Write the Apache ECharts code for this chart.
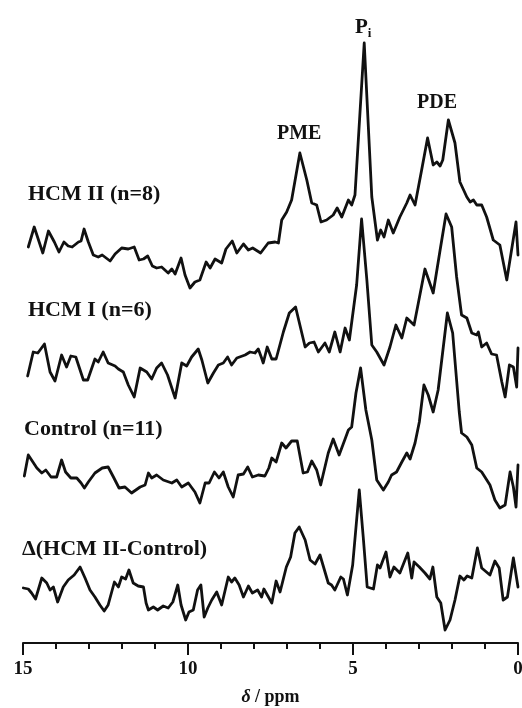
<!DOCTYPE html>
<html>
<head>
<meta charset="utf-8">
<script src="https://cdn.jsdelivr.net/npm/echarts@6/dist/echarts.min.js"></script>
<style>html,body{margin:0;padding:0;background:#fff}#c{width:522px;height:708px}</style>
</head>
<body>
<div id="c"></div>
<script>
// chemical shift (ppm), stacked intensity (arbitrary units)
const hcm2 = [[14.84,396],[14.66,416],[14.40,390],[14.23,412],[14.05,401],[13.91,391],[13.76,401],[13.63,397],[13.51,396],[13.32,401],[13.24,402],[13.15,414],[13.02,401],[12.87,388],[12.72,386],[12.60,388],[12.36,382],[12.21,389],[12.01,395],[11.81,394],[11.63,396],[11.48,383],[11.35,384],[11.22,387],[11.08,377],[10.95,375],[10.80,376],[10.60,370],[10.49,374],[10.39,369],[10.21,385],[10.09,368],[9.94,355],[9.79,361],[9.64,363],[9.45,381],[9.33,375],[9.18,384],[8.98,380],[8.85,394],[8.66,402],[8.52,390],[8.32,399],[8.17,393],[8.04,395],[7.80,390],[7.57,400],[7.36,401],[7.26,400],[7.16,423],[7.01,431],[6.86,443],[6.61,490],[6.40,463],[6.25,440],[6.10,438],[5.97,421],[5.80,423],[5.60,428],[5.48,435],[5.34,426],[5.14,443],[5.04,438],[4.94,448],[4.66,600],[4.43,446],[4.26,403],[4.16,413],[4.06,406],[3.93,423],[3.78,410],[3.58,426],[3.37,440],[3.27,448],[3.12,438],[2.92,473],[2.74,505],[2.57,478],[2.46,481],[2.36,477],[2.28,483],[2.11,523],[1.91,500],[1.76,461],[1.55,446],[1.45,441],[1.35,443],[1.25,438],[1.10,438],[0.95,426],[0.75,403],[0.55,398],[0.34,363],[0.06,421],[0.0,388]];
const hcm1 = [[14.86,267],[14.69,291],[14.55,290],[14.35,299],[14.18,271],[14.03,262],[13.83,288],[13.68,276],[13.55,287],[13.40,286],[13.17,263],[13.04,263],[12.82,284],[12.72,281],[12.57,291],[12.42,280],[12.21,277],[12.11,274],[11.96,271],[11.81,258],[11.63,246],[11.45,275],[11.25,271],[11.10,264],[10.95,275],[10.80,280],[10.62,268],[10.39,245],[10.19,280],[10.04,277],[9.89,286],[9.69,294],[9.58,283],[9.40,260],[9.23,270],[9.08,278],[8.93,280],[8.80,286],[8.68,278],[8.52,285],[8.27,288],[8.12,291],[7.97,290],[7.87,294],[7.77,285],[7.72,280],[7.60,296],[7.46,284],[7.33,284],[7.11,311],[6.93,330],[6.74,336],[6.45,296],[6.32,300],[6.18,301],[6.05,291],[5.85,300],[5.72,291],[5.55,311],[5.39,291],[5.24,315],[5.11,303],[4.89,358],[4.74,424],[4.58,363],[4.43,298],[4.28,291],[4.06,278],[3.88,296],[3.70,318],[3.52,305],[3.37,325],[3.15,318],[3.02,340],[2.82,374],[2.57,350],[2.36,393],[2.18,429],[2.01,416],[1.86,366],[1.71,328],[1.55,325],[1.40,310],[1.25,308],[1.20,311],[1.10,296],[0.95,300],[0.80,289],[0.65,288],[0.49,261],[0.39,246],[0.26,278],[0.14,276],[0.04,256],[0.0,295]];
const control = [[14.96,167],[14.84,188],[14.58,175],[14.43,170],[14.31,173],[14.15,166],[13.98,166],[13.83,183],[13.71,171],[13.55,165],[13.37,165],[13.24,160],[13.14,155],[13.02,161],[12.82,170],[12.60,175],[12.42,176],[12.26,166],[12.09,155],[11.91,156],[11.71,150],[11.45,156],[11.30,158],[11.20,170],[11.10,165],[10.95,168],[10.75,163],[10.49,160],[10.34,163],[10.19,156],[9.99,160],[9.79,151],[9.64,140],[9.48,160],[9.36,160],[9.20,171],[9.06,165],[8.93,171],[8.78,156],[8.63,146],[8.48,168],[8.32,169],[8.19,176],[8.05,166],[7.87,168],[7.67,167],[7.55,175],[7.46,185],[7.33,181],[7.16,200],[7.03,195],[6.86,202],[6.69,202],[6.51,170],[6.38,171],[6.25,182],[6.10,173],[5.98,158],[5.75,190],[5.60,204],[5.42,188],[5.24,204],[5.14,213],[5.04,216],[4.91,250],[4.77,275],[4.61,233],[4.43,203],[4.28,163],[4.08,153],[3.93,161],[3.83,168],[3.68,171],[3.52,181],[3.37,190],[3.27,184],[3.12,200],[2.99,221],[2.85,258],[2.72,248],[2.57,231],[2.42,253],[2.14,330],[1.98,310],[1.78,231],[1.71,210],[1.55,206],[1.40,198],[1.25,175],[1.10,171],[0.85,158],[0.70,143],[0.55,135],[0.39,138],[0.24,171],[0.14,156],[0.06,136],[0.0,178]];
const delta = [[14.99,55],[14.84,54],[14.74,50],[14.62,44],[14.43,65],[14.28,60],[14.18,53],[14.08,56],[13.95,41],[13.78,56],[13.63,63],[13.45,68],[13.27,76],[13.12,65],[12.97,53],[12.82,46],[12.67,38],[12.54,32],[12.42,38],[12.23,61],[12.11,56],[12.01,66],[11.89,64],[11.79,73],[11.66,60],[11.51,57],[11.35,56],[11.27,40],[11.20,33],[11.05,36],[10.92,33],[10.75,37],[10.60,35],[10.46,41],[10.31,58],[10.21,38],[10.07,23],[9.97,31],[9.84,33],[9.71,53],[9.61,58],[9.51,26],[9.40,35],[9.28,43],[9.13,51],[8.98,38],[8.78,66],[8.68,61],[8.58,65],[8.45,58],[8.32,46],[8.17,57],[8.05,50],[7.89,53],[7.77,46],[7.70,54],[7.46,40],[7.33,62],[7.21,51],[7.02,76],[6.89,86],[6.76,110],[6.63,116],[6.45,103],[6.30,83],[6.15,79],[6.00,88],[5.75,60],[5.65,58],[5.55,53],[5.37,66],[5.29,64],[5.17,48],[5.01,78],[4.81,153],[4.69,106],[4.57,56],[4.38,54],[4.26,78],[4.18,75],[4.00,91],[3.88,66],[3.76,76],[3.58,70],[3.34,90],[3.22,65],[3.15,81],[2.99,76],[2.82,70],[2.67,64],[2.58,76],[2.46,46],[2.34,40],[2.21,13],[2.06,23],[1.91,43],[1.76,67],[1.64,63],[1.54,67],[1.40,65],[1.23,95],[1.10,75],[0.85,68],[0.70,82],[0.57,75],[0.45,43],[0.32,46],[0.14,85],[0.0,56]];
const seriesNames = ['HCM II (n=8)', 'HCM I (n=6)', 'Control (n=11)', 'Δ(HCM II-Control)'];
const xTicks = [0, 5, 10, 15];

const chart = echarts.init(document.getElementById('c'), null, {renderer: 'canvas'});
const serif = '"Liberation Serif", "DejaVu Serif", serif';
const lineSeries = [hcm2, hcm1, control, delta].map((d, i) => ({
  name: seriesNames[i], type: 'line', data: d, symbol: 'none', smooth: false,
  lineStyle: {color: '#111', width: 2.8, join: 'round', cap: 'round'}, silent: true, animation: false
}));
const labelStyle = {fontFamily: serif, fontWeight: 'bold', fontSize: 22, fill: '#111'};
chart.setOption({
  animation: false,
  backgroundColor: '#fff',
  grid: {left: 23, right: 4, top: 10, bottom: 65, containLabel: false, outerBoundsMode: 'none'},
  xAxis: {
    type: 'value', inverse: true, min: 0, max: 15, interval: 5,
    axisLine: {show: true, lineStyle: {color: '#111', width: 2}},
    axisTick: {show: true, length: 12, lineStyle: {color: '#111', width: 2}},
    minorTick: {show: true, splitNumber: 5, length: 6, lineStyle: {color: '#111', width: 2}},
    splitLine: {show: false},
    axisLabel: {color: '#111', fontFamily: serif, fontWeight: 'bold', fontSize: 19, margin: 17,
      formatter: v => xTicks.includes(v) ? String(v) : ''},
    name: '{i|δ} / ppm', nameLocation: 'middle', nameGap: 45,
    nameTextStyle: {color: '#111', fontFamily: serif, fontWeight: 'bold', fontSize: 18,
      rich: {i: {fontStyle: 'italic', fontWeight: 'bold', fontFamily: serif, fontSize: 18, color: '#111'}}}
  },
  yAxis: {type: 'value', min: 0, max: 633, show: false},
  series: lineSeries,
  graphic: [
    {type: 'text', left: 28, top: 183, style: Object.assign({text: seriesNames[0]}, labelStyle)},
    {type: 'text', left: 28, top: 299, style: Object.assign({text: seriesNames[1]}, labelStyle)},
    {type: 'text', left: 24, top: 418, style: Object.assign({text: seriesNames[2]}, labelStyle)},
    {type: 'text', left: 22, top: 538, style: Object.assign({text: seriesNames[3]}, labelStyle)},
    {type: 'text', left: 277, top: 124, style: Object.assign({text: 'PME'}, labelStyle, {fontSize: 20})},
    {type: 'text', left: 417, top: 93, style: Object.assign({text: 'PDE'}, labelStyle, {fontSize: 20})},
    {type: 'text', left: 355, top: 17, style: {text: '{p|P}{s|i}', fill: '#111',
      rich: {p: {fontFamily: serif, fontWeight: 'bold', fontSize: 21, fill: '#111'},
             s: {fontFamily: serif, fontWeight: 'bold', fontSize: 13, fill: '#111', padding: [12, 0, 0, 0]}}}}
  ]
});
</script>
</body>
</html>
